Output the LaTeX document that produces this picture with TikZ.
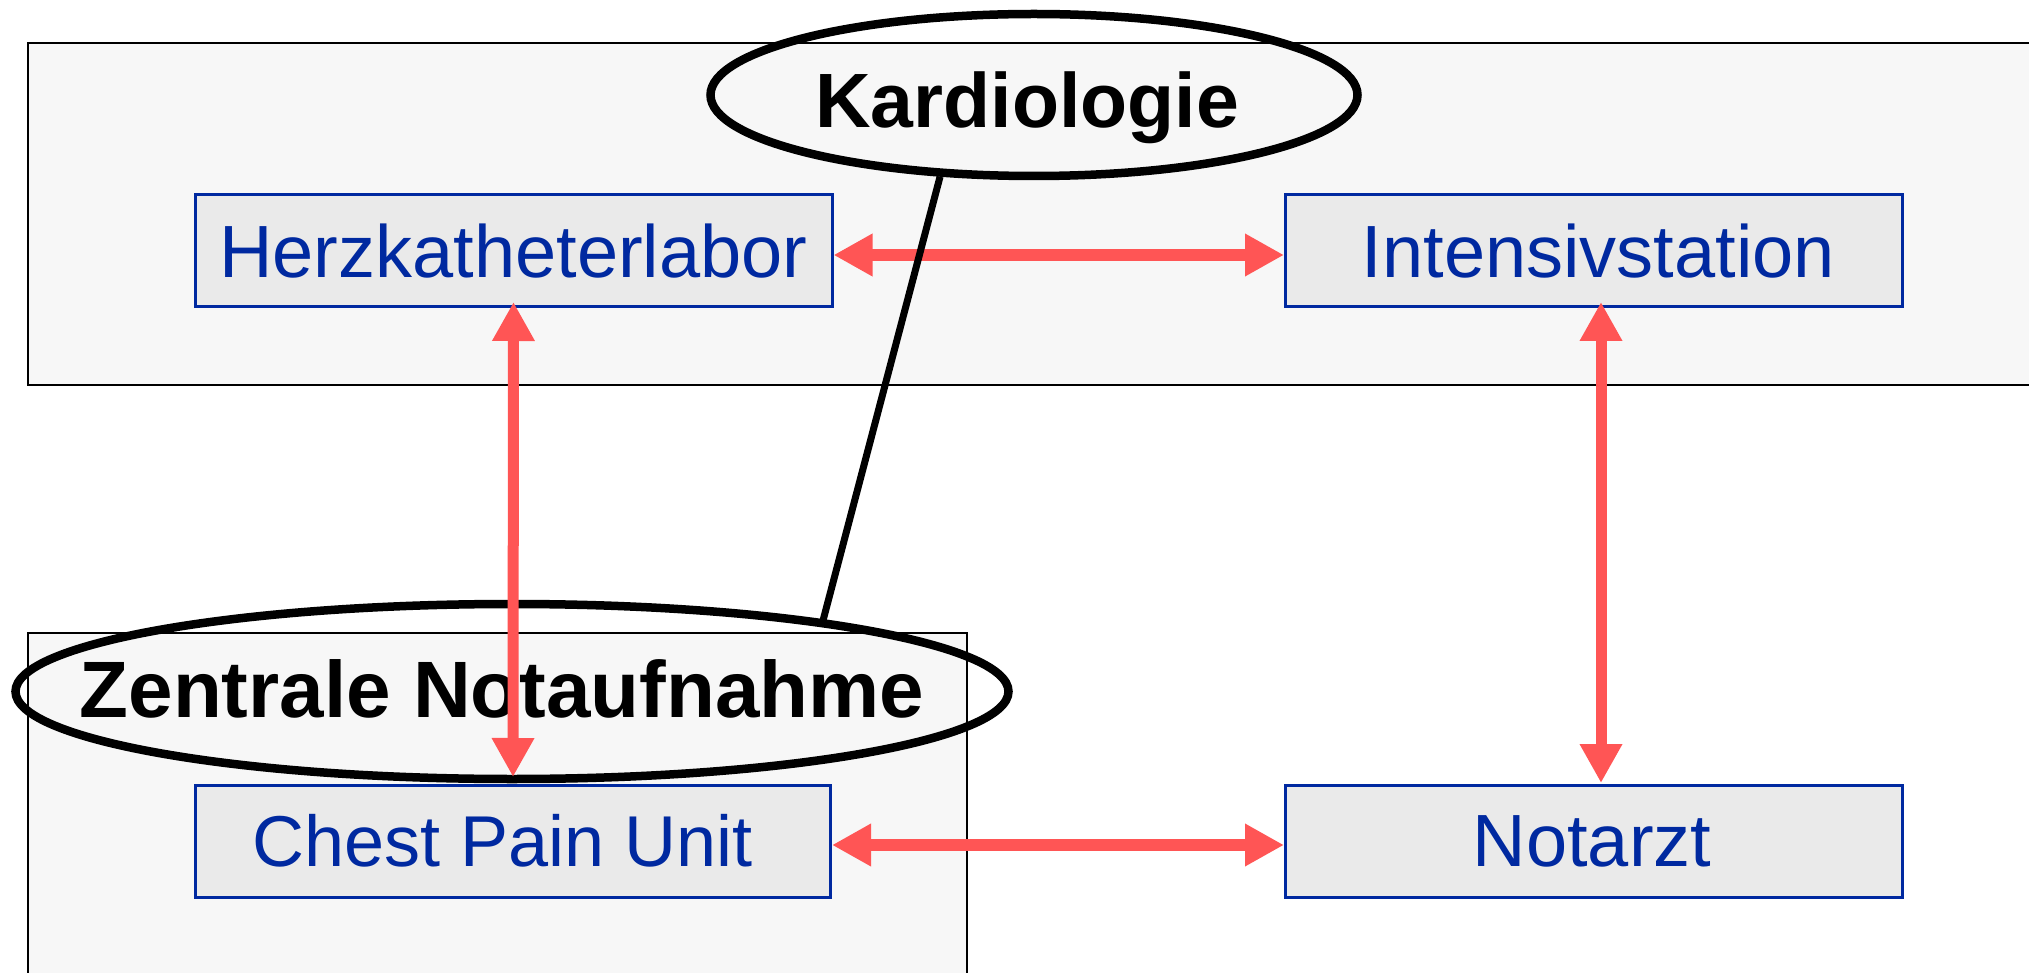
\documentclass[tikz,border=0pt]{standalone}
\usepackage{fontspec}
\setmainfont{Liberation Sans}
\usetikzlibrary{arrows.meta,shapes.geometric}
\definecolor{boxblue}{HTML}{0029A0}
\definecolor{boxfill}{HTML}{EAEAEA}
\definecolor{areafill}{HTML}{F7F7F7}
\definecolor{arrred}{HTML}{FF5555}
\tikzset{
 area/.style={draw=black, line width=2.5pt, fill=areafill},
 unit/.style={draw=boxblue, line width=3pt, fill=boxfill, minimum height=112pt, inner sep=0pt, text=boxblue, font=\fontsize{74}{80}\selectfont},
 dept/.style={draw=black, line width=8.5pt, ellipse, inner sep=0pt},
 depttext/.style={anchor=base, inner sep=0pt},
 link/.style={draw=arrred, line width=12pt, {Triangle[width=40pt,length=39pt]}-{Triangle[width=40pt,length=39pt]}},
 tie/.style={draw=black, line width=7pt},
}
\begin{document}
\begin{tikzpicture}[x=1pt,y=-1pt]
\useasboundingbox (0,0) rectangle (2029,973);
\clip (0,0) rectangle (2029,973);
% department areas
\draw[area] (28,43) rectangle (2060,385);
\draw[area] (28,633) rectangle (967,1010);
% units
\node[unit, minimum width=637pt] (herz) at (513.5,251) {Herzkatheterlabor};
\node[unit, minimum width=617pt] (intens) at (1594,251) {\hspace{9pt}Intensivstation};
\node[unit, minimum width=635pt] (cpu) at (513,841) {\hspace{-20pt}\fontsize{72}{80}\selectfont Chest Pain Unit};
\node[unit, minimum width=617pt] (notarzt) at (1594,841) {\hspace{-4pt}Notarzt};
% department labels
\node[dept, minimum width=647pt, minimum height=162pt] (kard) at (1034,95) {};
\node[depttext, font=\bfseries\fontsize{77}{84}\selectfont] (kardtext) at (1027,128) {Kardiologie};
\node[dept, minimum width=993pt, minimum height=175pt] (zna) at (512,691.5) {};
\node[depttext, font=\bfseries\fontsize{80}{88}\selectfont] (znatext) at (502,717) {Zentrale Notaufnahme};
% connections
\draw[link] ([yshift=-4pt]herz.east) -- ([yshift=-4pt]intens.west);
\draw[link] ([yshift=-4pt]cpu.east) -- ([yshift=-4pt]notarzt.west);
\draw[link, line width=11pt] ([yshift=6.5pt]herz.south) -- ([yshift=6.5pt]cpu.north);
\draw[link, line width=11pt] ([xshift=7pt,yshift=6.5pt]intens.south) -- ([xshift=7pt,yshift=0.5pt]notarzt.north);
\draw[tie] (kard.221) -- (zna.13.5);
\end{tikzpicture}
\end{document}
